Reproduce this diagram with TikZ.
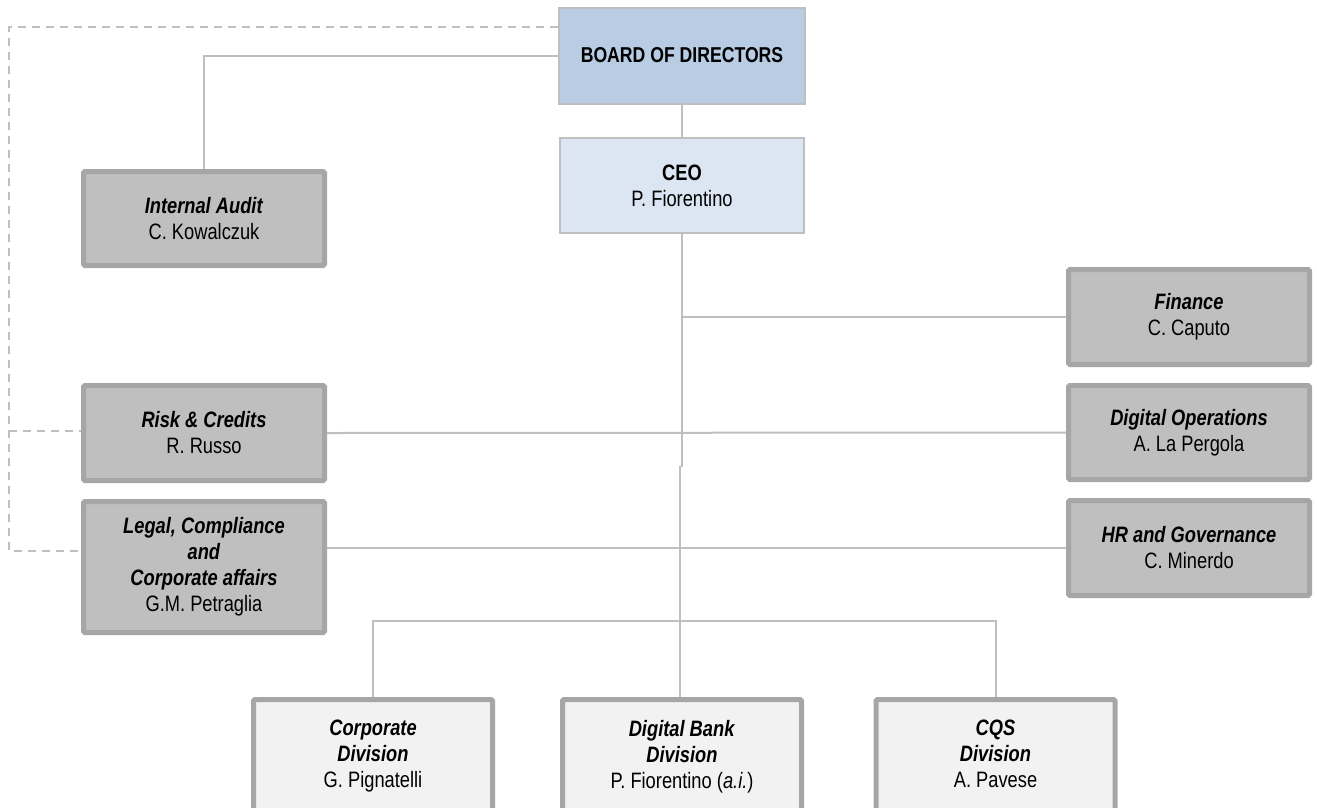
\documentclass[tikz,border=0pt]{standalone}
\usepackage{fontspec}
\setmainfont{Liberation Sans}[FakeStretch=0.82]
\usepackage{tikz}
\usetikzlibrary{calc}

\definecolor{boardblue}{HTML}{B8CCE4}
\definecolor{ceoblue}{HTML}{DCE6F2}
\definecolor{staffgray}{HTML}{BFBFBF}
\definecolor{rimgray}{HTML}{A6A6A6}
\definecolor{divgray}{HTML}{F2F2F2}
\definecolor{linkgray}{HTML}{BFBFBF}

\begin{document}
\begin{tikzpicture}[x=1pt,y=-1pt,
    every node/.style={font=\fontsize{22.3}{26}\selectfont, align=center, inner sep=0pt},
    topbox/.style={draw=linkgray, line width=2pt, fill=boardblue, minimum width=246pt, minimum height=96pt,
      font=\fontsize{21.5}{26}\selectfont},
    ceobox/.style={draw=linkgray, line width=2pt, fill=ceoblue, minimum width=244pt, minimum height=95pt},
    staffbox/.style={draw=rimgray, line width=5pt, fill=staffgray, rounded corners=1.5pt, minimum width=241pt},
    divbox/.style={draw=rimgray, line width=5pt, fill=divgray, rounded corners=1.5pt, minimum width=239pt, minimum height=117pt},
    link/.style={draw=linkgray, line width=2pt},
    dashlink/.style={draw=linkgray, line width=1.5pt, dash pattern=on 8pt off 6pt}]
    \useasboundingbox (0,0) rectangle (1317,807);

    % top of the chart
    \node[topbox] (board) at (682,55.5) {\textbf{BOARD OF DIRECTORS}};
    \node[ceobox] (ceo) at (682,185.5) {\textbf{CEO}\\P. Fiorentino};

    % staff functions
    \node[staffbox, minimum height=94pt] (audit) at (204,218.5) {\textbf{\textit{Internal Audit}}\\C. Kowalczuk};
    \node[staffbox, minimum height=95pt] (risk) at (204,433) {\textbf{\textit{Risk \& Credits}}\\R. Russo};
    \node[staffbox, minimum height=131pt] (legal) at (204,567) {\textbf{\textit{Legal, Compliance}}\\\textbf{\textit{and}}\\\textbf{\textit{Corporate affairs}}\\G.M. Petraglia};
    \node[staffbox, minimum height=95pt] (finance) at (1189,317) {\textbf{\textit{Finance}}\\C. Caputo};
    \node[staffbox, minimum height=94pt] (digops) at (1189,432.5) {\textbf{\textit{Digital Operations}}\\A. La Pergola};
    \node[staffbox, minimum height=95pt] (hr) at (1189,548) {\textbf{\textit{HR and Governance}}\\C. Minerdo};

    % divisions
    \node[divbox] (corp) at (373,758) {\textbf{\textit{Corporate}}\\\textbf{\textit{Division}}\\G. Pignatelli\strut};
    \node[divbox] (digbank) at (682,758) {\textbf{\textit{Digital Bank}}\\\textbf{\textit{Division}}\\P. Fiorentino (\textit{a.i.})\strut};
    \node[divbox] (cqs) at (995.5,758) {\textbf{\textit{CQS}}\\\textbf{\textit{Division}}\\A. Pavese\strut};

    % free ends of the connectors
    \coordinate (spine) at (682,467);
    \coordinate (spinelow) at (680,466);
    \coordinate (fork) at (680,621);
    \coordinate (dtop) at (9,27);
    \coordinate (drisk) at (9,431);
    \coordinate (dlegal) at (9,551);

    \draw[link] (board.south) -- (ceo.north);
    \draw[link] (board.west) -| (audit.north);
    \draw[link] (ceo.south) -- (spine);
    \draw[link] (spine |- finance.west) -- (finance.west);
    \draw[link] (risk.east) -- (digops.west);
    \draw[link] (legal.east |- hr.west) -- (hr.west);
    \draw[link] (spinelow) -- (spinelow |- digbank.north);
    \draw[link] (corp.north) |- (fork) -| (cqs.north);

    \draw[dashlink] (board.west |- dtop) -- (dtop) -- (dlegal) -- (legal.west |- dlegal);
    \draw[dashlink] (drisk) -- (risk.west |- drisk);
\end{tikzpicture}
\end{document}
